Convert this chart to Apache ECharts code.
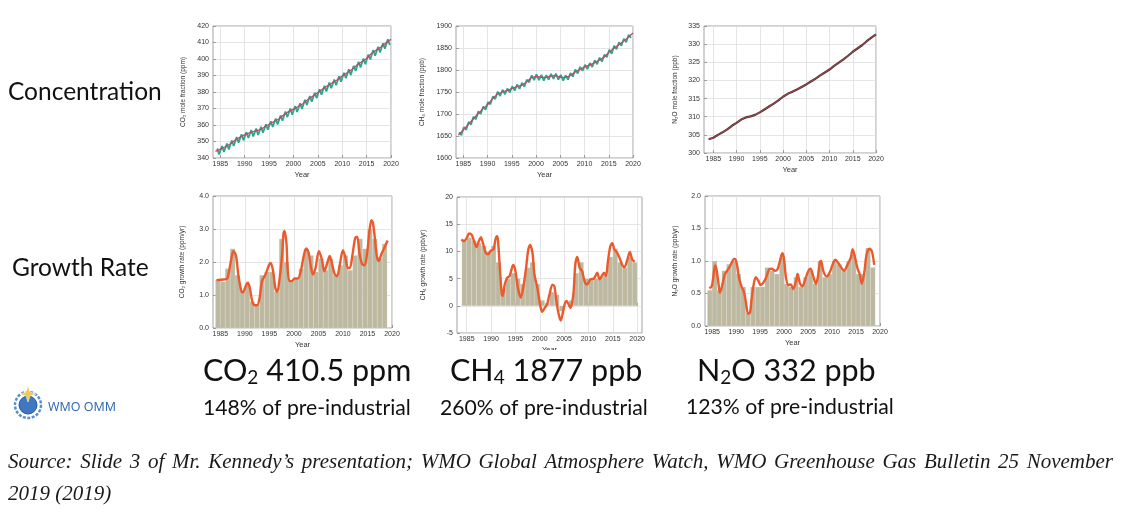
<!DOCTYPE html>
<html><head><meta charset="utf-8">
<script src="https://cdn.jsdelivr.net/npm/echarts@6/dist/echarts.min.js"></script>
<style>html,body{margin:0;padding:0;background:#fff;}#c{width:1121px;height:520px;}</style>
</head><body><div id="c"></div>
<script>
// ---------- DATA ----------
const xTicks = [1985, 1990, 1995, 2000, 2005, 2010, 2015, 2020];
const trendYears = [1984,1985,1986,1987,1988,1989,1990,1991,1992,1993,1994,1995,1996,1997,1998,1999,2000,2001,2002,2003,2004,2005,2006,2007,2008,2009,2010,2011,2012,2013,2014,2015,2016,2017,2018,2019,2020];
const seasonYears = [1984,1985,1986,1987,1988,1989,1990,1991,1992,1993,1994,1995,1996,1997,1998,1999,2000,2001,2002,2003,2004,2005,2006,2007,2008,2009,2010,2011,2012,2013,2014,2015,2016,2017,2018,2019];

// CO2 concentration (ppm)
const co2Trend = [344.0,345.4,346.8,348.5,350.8,352.6,354.0,355.3,356.2,357.0,358.6,360.4,362.1,363.6,366.2,368.2,369.6,371.2,373.1,375.6,377.5,379.7,381.8,383.8,385.6,387.4,389.7,391.7,393.7,396.3,398.3,400.3,403.4,405.4,407.4,409.8,412.0];
const co2SeasonMax = [345.8,347.2,348.7,350.6,352.7,354.4,355.8,356.9,357.8,358.9,360.5,362.3,363.9,365.8,368.2,370.0,371.5,373.2,375.3,377.6,379.6,381.7,383.8,385.7,387.5,389.5,391.7,393.7,395.9,398.3,400.3,402.7,405.4,407.4,409.5,411.9];
const co2SeasonMin = [342.2,343.6,345.2,347.3,349.3,350.7,352.1,353.1,353.9,355.3,357.1,358.8,360.3,362.6,364.8,366.3,367.9,369.7,372.1,374.1,376.2,378.4,380.4,382.3,384.1,386.2,388.3,390.3,392.8,394.9,396.9,399.7,402.0,404.0,406.3,408.5];

// CH4 concentration (ppb)
const ch4Trend = [1652,1664,1676,1688,1700,1711,1721,1734,1745,1750,1753,1758,1762,1765,1772,1783,1785,1784,1783,1786,1787,1784,1783,1787,1795,1801,1807,1811,1816,1822,1829,1840,1849,1857,1865,1874,1884];
const ch4SeasonMax = [1658,1670,1682,1694,1706,1717,1727,1740,1751,1755,1758,1763,1767,1771,1778,1788,1790,1789,1788,1791,1792,1789,1788,1793,1801,1807,1812,1816,1822,1828,1835,1846,1855,1863,1871,1880];
const ch4SeasonMin = [1652,1664,1676,1688,1700,1710,1722,1734,1741,1745,1749,1753,1757,1762,1772,1777,1777,1776,1778,1780,1778,1776,1778,1785,1792,1798,1802,1807,1813,1819,1829,1837,1847,1855,1863,1873];

// N2O concentration (ppb)
const n2oTrend = [303.8,304.2,305.0,305.7,306.5,307.5,308.3,309.2,309.8,310.1,310.5,311.2,312.0,312.8,313.6,314.5,315.5,316.3,316.9,317.5,318.2,318.9,319.7,320.5,321.4,322.2,323.0,324.0,324.9,325.8,326.8,327.9,328.8,329.7,330.8,331.8,332.7];

// Growth rates: annual bars (from 1984) and smoothed curves [year, value]
const barYears = [1984,1985,1986,1987,1988,1989,1990,1991,1992,1993,1994,1995,1996,1997,1998,1999,2000,2001,2002,2003,2004,2005,2006,2007,2008,2009,2010,2011,2012,2013,2014,2015,2016,2017,2018,2019];
const co2GrowthBars = [1.45,1.4,1.8,2.4,1.6,1.1,1.3,0.8,0.7,1.6,1.7,1.7,1.1,2.7,2.0,1.4,1.5,1.8,2.4,2.2,1.7,2.1,1.75,2.1,1.6,1.9,2.2,1.75,2.2,2.7,2.4,3.0,2.7,2.1,2.55];
const ch4GrowthBars = [12,12.5,12,11.5,11,10,11,8,3,5,6,5,4,7,8,4,1,0.5,2.5,2,-1,0,1,6,8,5,5,5,5.3,5.7,9,10.5,8,7,9,8];
const n2oGrowthBars = [0.55,1.0,0.55,0.85,0.95,1.0,0.8,0.6,0.2,0.6,0.6,0.6,0.9,0.85,0.8,1.05,0.65,0.6,0.75,0.6,0.75,0.85,0.65,1.0,0.75,0.8,1.0,0.95,0.85,1.0,1.1,0.8,0.8,1.2,0.9];

const co2GrowthCurve = [[1984.2,1.45],[1985.7,1.47],[1986.4,1.5],[1986.9,1.82],[1987.4,2.23],[1987.7,2.33],[1988.2,2.18],[1988.7,1.57],[1989.3,1.11],[1989.6,1.08],[1990.3,1.32],[1990.6,1.37],[1991.0,1.22],[1991.5,0.81],[1992.0,0.69],[1992.5,0.69],[1993.0,0.91],[1993.5,1.42],[1994.2,1.62],[1994.9,1.9],[1995.2,1.97],[1995.7,1.77],[1996.2,1.22],[1996.6,1.09],[1997.1,1.52],[1997.6,2.23],[1997.9,2.89],[1998.1,2.94],[1998.5,2.53],[1998.7,1.82],[1999.1,1.42],[1999.6,1.42],[2000.1,1.5],[2000.8,1.5],[2001.4,1.72],[2002.0,2.18],[2002.5,2.41],[2003.0,2.28],[2003.5,1.82],[2003.9,1.62],[2004.4,1.82],[2005.1,2.33],[2005.7,2.08],[2006.2,1.72],[2006.8,1.97],[2007.3,2.18],[2007.8,1.92],[2008.3,1.64],[2008.8,1.57],[2009.3,1.87],[2010.0,2.36],[2010.5,2.13],[2011.0,1.82],[2011.4,1.82],[2011.9,2.18],[2012.5,2.73],[2012.9,2.77],[2013.4,2.23],[2013.9,1.94],[2014.4,1.9],[2014.9,2.23],[2015.4,2.94],[2015.8,3.27],[2016.1,3.19],[2016.5,2.73],[2016.9,2.18],[2017.3,2.03],[2017.8,2.23],[2018.5,2.45],[2019.1,2.65]];
const ch4GrowthCurve = [[1983.9,12.2],[1984.5,11.9],[1985.0,12.5],[1985.5,13.3],[1986.0,13.1],[1986.5,11.9],[1987.0,10.8],[1987.5,11.9],[1987.9,12.6],[1988.3,11.6],[1988.9,9.75],[1989.4,9.45],[1989.9,10.1],[1990.5,10.4],[1990.9,12.2],[1991.2,12.8],[1991.4,12.2],[1991.8,7.0],[1992.2,2.1],[1992.4,1.8],[1992.8,3.9],[1993.3,5.15],[1993.8,5.5],[1994.4,7.3],[1994.6,7.5],[1995.0,6.4],[1995.5,3.3],[1996.1,1.5],[1996.6,3.3],[1997.2,7.0],[1997.6,10.1],[1998.0,11.2],[1998.5,9.75],[1998.9,5.8],[1999.5,3.3],[2000.2,-0.4],[2000.5,-1.1],[2001.0,-0.4],[2001.5,0.25],[2002.0,2.1],[2002.6,3.9],[2003.0,3.6],[2003.4,0.9],[2003.9,-1.6],[2004.3,-2.7],[2004.8,-1.0],[2005.2,0.55],[2005.5,0.9],[2006.0,0.1],[2006.3,-0.4],[2006.9,2.1],[2007.3,7.6],[2007.7,9.0],[2008.2,7.0],[2008.7,6.4],[2009.2,4.5],[2009.7,3.9],[2010.4,4.85],[2011.1,5.0],[2011.6,5.8],[2011.8,6.1],[2012.3,4.85],[2012.8,5.6],[2013.2,6.1],[2013.6,5.5],[2014.0,8.2],[2014.5,11.0],[2014.9,11.5],[2015.3,10.4],[2015.9,9.75],[2016.4,8.8],[2016.9,7.6],[2017.4,7.1],[2017.9,8.2],[2018.5,9.9],[2019.0,8.5],[2019.5,8.1]];
const n2oGrowthCurve = [[1984.4,0.58],[1984.9,0.61],[1985.2,0.74],[1985.6,0.93],[1985.9,0.87],[1986.3,0.66],[1986.6,0.51],[1987.2,0.66],[1987.6,0.79],[1988.3,0.87],[1988.7,0.92],[1989.4,1.02],[1989.7,1.03],[1990.1,0.97],[1990.6,0.74],[1991.1,0.61],[1991.6,0.53],[1992.0,0.38],[1992.5,0.19],[1992.9,0.21],[1993.2,0.40],[1993.7,0.66],[1994.1,0.75],[1994.6,0.70],[1995.1,0.63],[1995.6,0.66],[1996.2,0.74],[1996.9,0.87],[1997.4,0.88],[1998.1,0.85],[1998.6,0.87],[1999.1,0.99],[1999.5,1.10],[1999.7,1.12],[2000.0,1.02],[2000.4,0.74],[2000.9,0.63],[2001.4,0.64],[2001.9,0.57],[2002.5,0.69],[2002.8,0.80],[2003.3,0.66],[2003.8,0.61],[2004.3,0.69],[2005.0,0.84],[2005.5,0.88],[2006.1,0.76],[2006.6,0.65],[2007.0,0.74],[2007.5,0.99],[2007.7,1.0],[2008.2,0.84],[2008.9,0.76],[2009.6,0.84],[2010.3,0.98],[2010.7,1.02],[2011.3,0.97],[2012.0,0.89],[2012.5,0.85],[2013.2,0.94],[2013.9,1.05],[2014.3,1.18],[2014.8,1.05],[2015.3,0.89],[2015.8,0.79],[2016.2,0.65],[2016.7,0.81],[2017.2,1.10],[2017.8,1.19],[2018.3,1.15],[2018.8,0.94]];

// Timing (fraction of year) of seasonal maxima/minima
const co2MaxAt = 0.35, co2MinAt = 0.75, ch4MaxAt = 0.1, ch4MinAt = 0.6;

// ---------- BUILD ----------
const FONT = 'Liberation Sans, Arial, sans-serif';
const panels = [
  {grid:{left:213,top:26,width:178,height:132}, xmin:1983.5, xmax:2020, ymin:340, ymax:420, yint:10, dec:0, name:'CO₂ mole fraction (ppm)', gap:26},
  {grid:{left:456,top:26,width:177,height:132}, xmin:1983.5, xmax:2020, ymin:1600, ymax:1900, yint:50, dec:0, name:'CH₄ mole fraction (ppb)', gap:30},
  {grid:{left:704,top:26,width:172,height:127}, xmin:1983, xmax:2020, ymin:300, ymax:335, yint:5, dec:0, name:'N₂O mole fraction (ppb)', gap:25},
  {grid:{left:213,top:196,width:179,height:132}, xmin:1983.5, xmax:2020, ymin:0, ymax:4, yint:1, dec:1, name:'CO₂ growth rate (ppm/yr)', gap:27},
  {grid:{left:457,top:197,width:185,height:136}, xmin:1983, xmax:2021, ymin:-5, ymax:20, yint:5, dec:0, name:'CH₄ growth rate (ppb/yr)', gap:30},
  {grid:{left:705,top:196,width:175,height:130}, xmin:1983.5, xmax:2020, ymin:0, ymax:2, yint:0.5, dec:1, name:'N₂O growth rate (ppb/yr)', gap:26}
];
const grids = [], xAxes = [], yAxes = [];
panels.forEach((p, i) => {
  grids.push(Object.assign({show:true, borderColor:'#8a8a8a', borderWidth:0.8, backgroundColor:'#fff'}, p.grid));
  xAxes.push({type:'value', gridIndex:i, min:p.xmin, max:p.xmax,
    axisLine:{show:false},
    axisTick:{show:true, inside:true, length:3, customValues:xTicks, lineStyle:{color:'#888', width:0.8}},
    axisLabel:{customValues:xTicks, fontSize:7, color:'#333', fontFamily:FONT, margin:3, formatter:v=>String(v)},
    splitLine:{show:true, lineStyle:{color:'#dedede', width:0.8}},
    name:'Year', nameLocation:'middle', nameGap:13, nameTextStyle:{fontSize:7.5, color:'#333', fontFamily:FONT}});
  yAxes.push({type:'value', gridIndex:i, min:p.ymin, max:p.ymax, interval:p.yint,
    axisLine:{show:false},
    axisTick:{show:true, inside:true, length:3, lineStyle:{color:'#888', width:0.8}},
    axisLabel:{fontSize:7, color:'#333', fontFamily:FONT, margin:4, formatter:v=>v.toFixed(p.dec)},
    splitLine:{show:true, lineStyle:{color:'#dedede', width:0.8}},
    name:p.name, nameLocation:'middle', nameGap:p.gap, nameTextStyle:{fontSize:6.5, color:'#333', fontFamily:FONT}});
});

function seasonal(maxArr, minArr, maxAt, minAt) {
  const out = [];
  seasonYears.forEach((y, i) => { out.push([y + maxAt, maxArr[i]]); out.push([y + minAt, minArr[i]]); });
  return out;
}
const trendPairs = arr => trendYears.map((y, i) => [y, arr[i]]);
const barPairs = arr => arr.map((v, i) => [barYears[i], v]);

function barSeries(idx, arr) {
  return {type:'custom', xAxisIndex:idx, yAxisIndex:idx, data:barPairs(arr), z:2,
    encode:{x:0, y:1},
    renderItem:(params, api) => {
      const x0 = api.value(0), v = api.value(1);
      const a = api.coord([x0, 0]), b = api.coord([x0 + 1, v]);
      return {type:'rect', shape:{x:a[0], y:Math.min(a[1], b[1]), width:b[0]-a[0], height:Math.abs(b[1]-a[1])},
        style:{fill:'#bdb8a0', stroke:'rgba(255,255,255,0.3)', lineWidth:0.5}};
    }};
}
function curveSeries(idx, data) {
  return {type:'line', xAxisIndex:idx, yAxisIndex:idx, data:data, smooth:0.3, showSymbol:false, z:3,
    lineStyle:{color:'#ec5a2c', width:2.4}, itemStyle:{color:'#ec5a2c'}};
}

const series = [
  {type:'line', xAxisIndex:0, yAxisIndex:0, data:seasonal(co2SeasonMax, co2SeasonMin, co2MaxAt, co2MinAt), showSymbol:false, lineStyle:{color:'#2aa78e', width:1.8}, z:2},
  {type:'line', xAxisIndex:0, yAxisIndex:0, data:trendPairs(co2Trend), showSymbol:false, lineStyle:{color:'#c9435b', width:1.2}, z:3},
  {type:'line', xAxisIndex:1, yAxisIndex:1, data:seasonal(ch4SeasonMax, ch4SeasonMin, ch4MaxAt, ch4MinAt), showSymbol:false, lineStyle:{color:'#2aa78e', width:1.8}, z:2},
  {type:'line', xAxisIndex:1, yAxisIndex:1, data:trendPairs(ch4Trend), showSymbol:false, lineStyle:{color:'#c9435b', width:1.2}, z:3},
  {type:'line', xAxisIndex:2, yAxisIndex:2, data:trendPairs(n2oTrend), showSymbol:false, lineStyle:{color:'#4a3434', width:2.2}, z:2},
  {type:'line', xAxisIndex:2, yAxisIndex:2, data:trendPairs(n2oTrend), showSymbol:false, lineStyle:{color:'#b84552', width:0.9}, z:3},
  barSeries(3, co2GrowthBars), curveSeries(3, co2GrowthCurve),
  barSeries(4, ch4GrowthBars), curveSeries(4, ch4GrowthCurve),
  barSeries(5, n2oGrowthBars), curveSeries(5, n2oGrowthCurve)
];

// ---------- TEXT / GRAPHICS ----------
const TXT = 'Lato, "Open Sans", sans-serif';
function bigLabel(x, y, pre, sub, post) {
  return {type:'text', x:x, y:y, z:100, style:{text:'{a|'+pre+'}{s|'+sub+'}{a|'+post+'}', align:'left', verticalAlign:'middle',
    rich:{a:{fontSize:30.5, fontFamily:TXT, fill:'#111'}, s:{fontSize:19, fontFamily:TXT, fill:'#111', padding:[14,0,0,0]}}}};
}
function plain(x, y, text, size, color, extra) {
  return {type:'text', x:x, y:y, z:100, style:Object.assign({text:text, fontSize:size, fontFamily:TXT, fill:color||'#111', align:'left', verticalAlign:'middle'}, extra||{})};
}
function justified(text, x, y, width, font) {
  const ctx = document.createElement('canvas').getContext('2d');
  ctx.font = font;
  const words = text.split(' ');
  const ws = words.map(w => ctx.measureText(w).width);
  const total = ws.reduce((s, w) => s + w, 0);
  const gap = (width - total) / (words.length - 1);
  const els = []; let cx = x;
  words.forEach((w, i) => { els.push({type:'text', x:cx, y:y, z:100, style:{text:w, font:font, fill:'#1a1a1a', align:'left', verticalAlign:'middle'}}); cx += ws[i] + gap; });
  return els;
}
const srcFont = 'italic 21px "Liberation Serif"';
const graphics = [
  {type:'rect', z:90, shape:{x:445, y:350, width:215, height:45}, style:{fill:'#fff'}},
  plain(8, 92, 'Concentration', 24.5, '#111'),
  plain(12, 268, 'Growth Rate', 24.5, '#111'),
  bigLabel(203, 371, 'CO', '2', ' 410.5 ppm'),
  bigLabel(450, 371, 'CH', '4', ' 1877 ppb'),
  bigLabel(697, 371, 'N', '2', 'O 332 ppb'),
  plain(203, 408, '148% of pre-industrial', 21.2, '#111'),
  plain(440, 408, '260% of pre-industrial', 21.2, '#111'),
  plain(686, 407, '123% of pre-industrial', 21.2, '#111'),
  // WMO emblem
  {type:'circle', z:100, shape:{cx:28, cy:405, r:13}, style:{fill:'none', stroke:'#5b8fcc', lineWidth:2.5, lineDash:[3,1.5]}},
  {type:'circle', z:100, shape:{cx:28, cy:405, r:9}, style:{fill:'#3f78c0', stroke:'#245a9e', lineWidth:1}},
  {type:'polygon', z:101, shape:{points:[[28,386],[30,392],[36,394],[30,396],[28,402],[26,396],[20,394],[26,392]]}, style:{fill:'#f2c94c', stroke:'#fff', lineWidth:0.5}},
  plain(48, 407, 'WMO OMM', 12.5, '#2763ad', {fontFamily:'"Open Sans", Lato, sans-serif'}),
  ...justified('Source: Slide 3 of Mr. Kennedy’s presentation; WMO Global Atmosphere Watch, WMO Greenhouse Gas Bulletin 25 November', 8, 462, 1105, srcFont),
  {type:'text', x:8, y:494, z:100, style:{text:'2019 (2019)', font:srcFont, fill:'#1a1a1a', align:'left', verticalAlign:'middle'}}
];

const chart = echarts.init(document.getElementById('c'), null, {renderer:'canvas'});
chart.setOption({animation:false, backgroundColor:'#fff', grid:grids, xAxis:xAxes, yAxis:yAxes, series:series, graphic:{elements:graphics}});
</script></body></html>
